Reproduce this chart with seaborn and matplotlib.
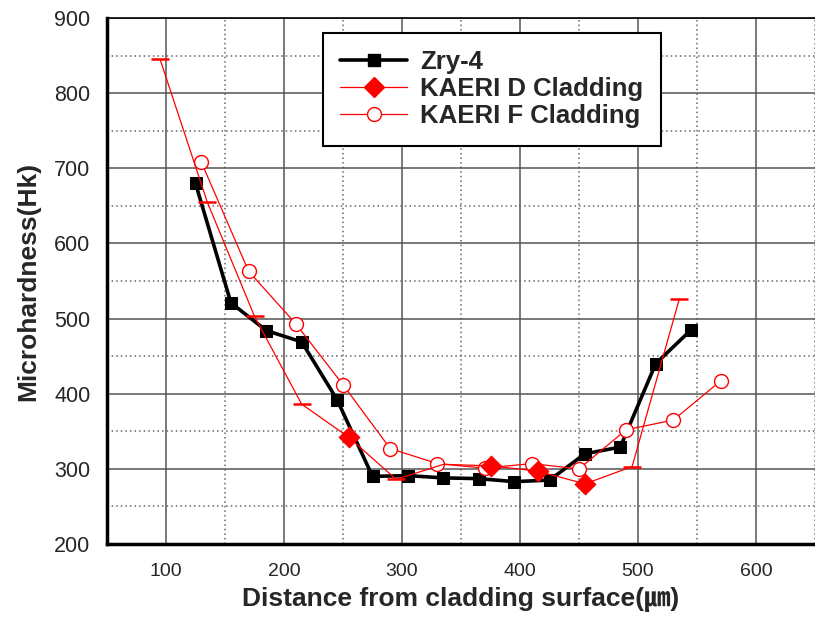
"""
Microhardness profile across the cladding wall: Zry-4 vs KAERI D / F cladding.
Writes out.png (815x621).
"""

import matplotlib.pyplot as plt
import seaborn as sns
from matplotlib.lines import Line2D
from matplotlib.ticker import MultipleLocator

# distance from cladding surface (um) and Knoop microhardness
ZRY_X = [125, 155, 185, 215, 245, 275, 305, 335, 365, 395, 425, 455, 485, 515, 545]
ZRY_Y = [680, 521, 484, 469, 392, 290, 291, 288, 287, 283, 285, 320, 329, 440, 485]

D_X = [95, 135, 175, 215, 255, 295, 335, 375, 415, 455, 495, 535]
D_Y = [845, 655, 503, 386, 342, 286, 306, 304, 297, 280, 303, 526]
# only some of the D points got a diamond in the original, most show a dash
D_DIAMOND = [4, 7, 8, 9]
D_DASH = [0, 1, 2, 3, 5, 10, 11]

F_X = [130, 170, 210, 250, 290, 330, 370, 410, 450, 490, 530, 570]
F_Y = [708, 563, 493, 412, 327, 307, 301, 307, 300, 352, 365, 417]

LABELS = ["Zry-4", "KAERI D Cladding", "KAERI F Cladding"]


def main():
    sns.set_style("white")
    plt.rcParams["font.family"] = ["Liberation Sans", "Noto Sans CJK KR", "DejaVu Sans"]

    fig = plt.figure(figsize=(8.15, 6.21), dpi=100)
    ax = fig.add_axes([107 / 815, 1 - 544 / 621, 708 / 815, 526 / 621])

    # Zry-4: thick black line, filled squares
    sns.lineplot(x=ZRY_X, y=ZRY_Y, sort=False, ax=ax, color="black", lw=2.6,
                 marker="s", markersize=9, markeredgecolor="black", zorder=3)

    # KAERI F: thin red line, open circles
    sns.lineplot(x=F_X, y=F_Y, sort=False, ax=ax, color="red", lw=0.9,
                 marker="o", markersize=10, markerfacecolor="white",
                 markeredgecolor="red", markeredgewidth=1.0, zorder=4)

    # KAERI D: thin red line, diamonds on a few points and dashes on the rest
    sns.lineplot(x=D_X, y=D_Y, sort=False, ax=ax, color="red", lw=0.9, zorder=5)
    sns.scatterplot(x=[D_X[i] for i in D_DIAMOND], y=[D_Y[i] for i in D_DIAMOND],
                    ax=ax, color="red", marker="D", s=110, edgecolor="red", zorder=6)
    sns.scatterplot(x=[D_X[i] for i in D_DASH], y=[D_Y[i] for i in D_DASH],
                    ax=ax, color="red", marker="_", s=170, linewidth=1.8, zorder=6)

    ax.set_xlim(50, 650)
    ax.set_ylim(200, 900)
    ax.xaxis.set_major_locator(MultipleLocator(100))
    ax.xaxis.set_minor_locator(MultipleLocator(50))
    ax.yaxis.set_major_locator(MultipleLocator(100))
    ax.yaxis.set_minor_locator(MultipleLocator(50))

    ax.grid(which="major", color="#555555", lw=1.1, ls="-")
    ax.grid(which="minor", color="#666666", lw=1.1, ls=(0, (1, 2)))
    ax.set_axisbelow(True)

    ax.tick_params(axis="x", which="major", direction="in", length=8, width=2,
                   labelsize=14, pad=14)
    ax.tick_params(axis="x", which="minor", direction="in", length=4, width=1.5)
    ax.tick_params(axis="y", which="both", direction="in", length=7, width=2,
                   labelsize=15.5, pad=12)

    for side in ["left", "bottom"]:
        ax.spines[side].set_linewidth(2.5)
        ax.spines[side].set_color("black")
    ax.spines["top"].set_linewidth(1.2)
    ax.spines["top"].set_color("black")
    ax.spines["right"].set_visible(False)

    ax.set_xlabel("Distance from cladding surface(㎛)", fontsize=19,
                  fontweight="bold", labelpad=5)
    ax.set_ylabel("Microhardness(Hk)", fontsize=19, fontweight="bold", labelpad=10)

    handles = [
        Line2D([], [], color="black", lw=2.6, marker="s", markersize=9),
        Line2D([], [], color="red", lw=0.9, marker="D", markersize=10),
        Line2D([], [], color="red", lw=0.9, marker="o", markersize=10,
               markerfacecolor="white", markeredgecolor="red"),
    ]
    leg = ax.legend(handles, LABELS, loc="upper left", bbox_to_anchor=(0.305, 0.972),
                    borderaxespad=0, fancybox=False, framealpha=1, edgecolor="black",
                    prop={"size": 18.5, "weight": "bold"}, handlelength=2.6,
                    borderpad=0.68, labelspacing=0.12, handletextpad=0.5)
    leg.get_frame().set_linewidth(1.5)

    fig.savefig("out.png", dpi=100)


if __name__ == "__main__":
    main()
